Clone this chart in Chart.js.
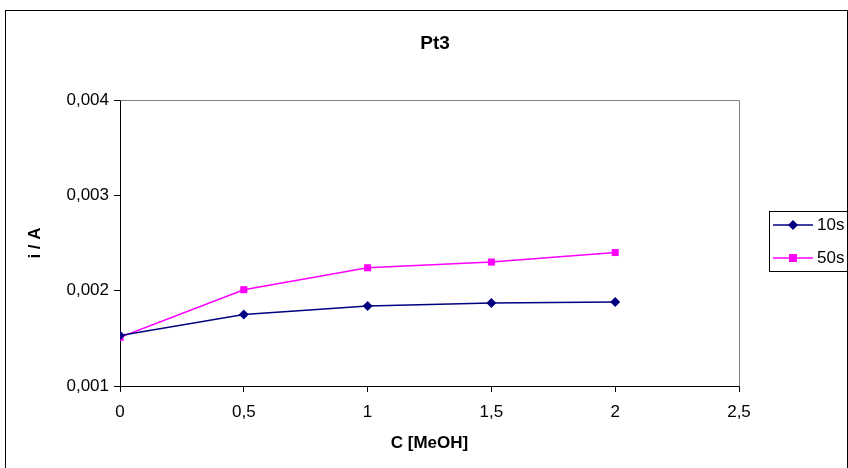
<!DOCTYPE html>
<html>
<head>
<meta charset="utf-8">
<script src="https://cdn.jsdelivr.net/npm/chart.js@4.4.1/dist/chart.umd.min.js"></script>
<style>
  html, body { margin: 0; padding: 0; background: #fff; }
  #wrap { width: 848px; height: 468px; position: relative; }
</style>
</head>
<body>
<div id="wrap"><canvas id="c" width="848" height="468"></canvas></div>
<script>
const chartTitle = "Pt3";
const xTitle = "C [MeOH]";
const yTitle = "i / A";
const cMeOH = [0, 0.5, 1, 1.5, 2];
const i10s = [0.00153, 0.00175, 0.00184, 0.00187, 0.00188];
const i50s = [0.00151, 0.00201, 0.00224, 0.0023, 0.0024];
const seriesLabels = ["10s", "50s"];
const xTicks = { min: 0, max: 2.5, step: 0.5 };
const yTicks = { min: 0.001, max: 0.004, step: 0.001 };

const FONT = "'Liberation Sans', Arial, sans-serif";

const toPoints = (xs, ys) => xs.map((x, k) => ({ x: x, y: ys[k] }));
const comma = (v, d) => {
  let s = (Math.round(v * Math.pow(10, d)) / Math.pow(10, d)).toString();
  return s.replace('.', ',');
};

const frame = {
  id: 'frame',
  beforeDraw(chart) {
    const ctx = chart.ctx;
    ctx.save();
    ctx.fillStyle = '#fff';
    ctx.fillRect(0, 0, chart.width, chart.height);
    ctx.strokeStyle = '#000';
    ctx.lineWidth = 1;
    ctx.strokeRect(5.5, 10.5, 842, 470);
    ctx.fillStyle = '#000';
    ctx.font = "bold 19px " + FONT;
    ctx.textAlign = 'center';
    ctx.textBaseline = 'middle';
    ctx.fillText(chartTitle, 435, 44);
    ctx.restore();
  },
  beforeDatasetsDraw(chart) {
    const a = chart.chartArea;
    const ctx = chart.ctx;
    ctx.save();
    ctx.strokeStyle = '#808080';
    ctx.lineWidth = 1;
    ctx.beginPath();
    ctx.moveTo(Math.round(a.left) + 0.5, Math.round(a.top) + 0.5);
    ctx.lineTo(Math.round(a.right) + 0.5, Math.round(a.top) + 0.5);
    ctx.lineTo(Math.round(a.right) + 0.5, Math.round(a.bottom) + 0.5);
    ctx.stroke();
    ctx.restore();
  },
  afterDraw(chart) {
    const ctx = chart.ctx;
    ctx.save();
    const bx = 769.5, by = 211.5, bw = 90, bh = 60;
    ctx.strokeStyle = '#000';
    ctx.lineWidth = 1;
    ctx.strokeRect(bx, by, bw, bh);
    const rows = [225, 258];
    chart.data.datasets.forEach((ds, k) => {
      const y = rows[k];
      ctx.strokeStyle = ds.borderColor;
      ctx.lineWidth = 1.5;
      ctx.beginPath();
      ctx.moveTo(773, y);
      ctx.lineTo(813, y);
      ctx.stroke();
      ctx.fillStyle = ds.pointBackgroundColor;
      const cx = 793;
      if (ds.pointStyle === 'rectRot') {
        ctx.beginPath();
        ctx.moveTo(cx, y - 5);
        ctx.lineTo(cx + 5, y);
        ctx.lineTo(cx, y + 5);
        ctx.lineTo(cx - 5, y);
        ctx.closePath();
        ctx.fill();
      } else {
        ctx.fillRect(cx - 4, y - 4, 8, 8);
      }
      ctx.fillStyle = '#000';
      ctx.font = "17px " + FONT;
      ctx.textBaseline = 'middle';
      ctx.textAlign = 'left';
      ctx.fillText(ds.label, 817, y);
    });
    ctx.restore();
  }
};

new Chart(document.getElementById('c'), {
  type: 'scatter',
  data: {
    datasets: [
      {
        label: seriesLabels[0],
        data: toPoints(cMeOH, i10s),
        showLine: true,
        borderColor: '#000080',
        backgroundColor: '#000080',
        pointBackgroundColor: '#000080',
        pointBorderColor: '#000080',
        borderWidth: 1.5,
        pointStyle: 'rectRot',
        pointRadius: 5,
        pointBorderWidth: 0
      },
      {
        label: seriesLabels[1],
        data: toPoints(cMeOH, i50s),
        showLine: true,
        borderColor: '#FF00FF',
        backgroundColor: '#FF00FF',
        pointBackgroundColor: '#FF00FF',
        pointBorderColor: '#FF00FF',
        borderWidth: 1.5,
        pointStyle: 'rect',
        pointRadius: 5,
        pointBorderWidth: 0
      }
    ]
  },
  options: {
    responsive: false,
    animation: false,
    devicePixelRatio: 1,
    layout: { padding: { left: 0, right: 109, top: 100, bottom: 0 } },
    plugins: {
      legend: { display: false },
      tooltip: { enabled: false },
      title: { display: false }
    },
    scales: {
      x: {
        type: 'linear',
        min: xTicks.min,
        max: xTicks.max,
        afterFit(s) { s.height = 82; },
        border: { display: true, color: '#000', width: 1 },
        grid: { display: true, drawOnChartArea: false, drawTicks: true, tickLength: 6, color: '#000' },
        ticks: {
          stepSize: xTicks.step,
          color: '#000',
          padding: 10,
          maxRotation: 0,
          font: { family: FONT, size: 17 },
          callback: v => comma(v, 1)
        },
        title: {
          display: true,
          text: xTitle,
          color: '#000',
          font: { family: FONT, size: 17, weight: 'bold' },
          padding: { top: 0, bottom: 14 }
        }
      },
      y: {
        type: 'linear',
        min: yTicks.min,
        max: yTicks.max,
        afterFit(s) { s.width = 120; },
        border: { display: true, color: '#000', width: 1 },
        grid: { display: true, drawOnChartArea: false, drawTicks: true, tickLength: 6, color: '#000' },
        ticks: {
          stepSize: yTicks.step,
          color: '#000',
          padding: 5,
          font: { family: FONT, size: 17 },
          callback: v => comma(v, 3).padEnd(5, '0')
        },
        title: {
          display: true,
          text: yTitle,
          color: '#000',
          font: { family: FONT, size: 17, weight: 'bold' },
          padding: { top: 25, bottom: 0 }
        }
      }
    }
  },
  plugins: [frame]
});
</script>
</body>
</html>
